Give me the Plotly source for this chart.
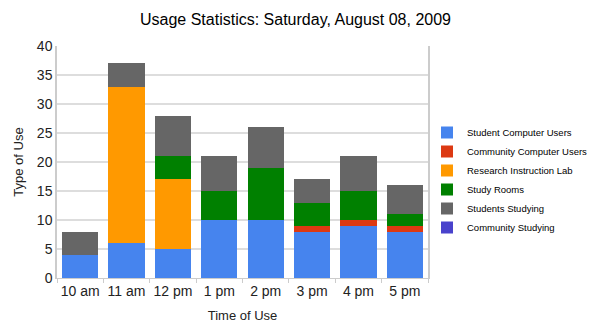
import plotly.graph_objects as go

times = ["10 am", "11 am", "12 pm", "1 pm", "2 pm", "3 pm", "4 pm", "5 pm"]
student_computer = [4, 6, 5, 10, 10, 8, 9, 8]
community_computer = [0, 0, 0, 0, 0, 1, 1, 1]
research_lab = [0, 27, 12, 0, 0, 0, 0, 0]
study_rooms = [0, 0, 4, 5, 9, 4, 5, 2]
students_studying = [4, 4, 7, 6, 7, 4, 6, 5]
community_studying = [0, 0, 0, 0, 0, 0, 0, 0]

series = [
    ("Student Computer Users", student_computer, "#4684EE"),
    ("Community Computer Users", community_computer, "#DC3912"),
    ("Research Instruction Lab", research_lab, "#FF9900"),
    ("Study Rooms", study_rooms, "#008000"),
    ("Students Studying", students_studying, "#666666"),
    ("Community Studying", community_studying, "#4942CC"),
]

fig = go.Figure()
for name, vals, col in series:
    fig.add_trace(go.Bar(x=times, y=vals, name=name, marker=dict(color=col, line=dict(width=0))))

fig.update_layout(
    width=591, height=332,
    barmode="stack", bargap=0.22,
    paper_bgcolor="white", plot_bgcolor="white",
    margin=dict(l=57, r=163, t=46, b=54, autoexpand=False),
    font=dict(family="Liberation Sans, Arial, sans-serif", color="#222"),
    title=dict(text="Usage Statistics: Saturday, August 08, 2009", x=0.5, xanchor="center",
               y=1 - 19/332, yanchor="middle", font=dict(size=16, color="#000")),
    legend=dict(xref="container", yref="container", x=427/591, xanchor="left",
                y=1 - 118/332, yanchor="top", traceorder="normal",
                font=dict(size=9.5, color="#000"), bgcolor="rgba(0,0,0,0)"),
    showlegend=True,
)
fig.update_xaxes(
    title=dict(text="Time of Use", font=dict(size=13, color="#222"), standoff=13),
    tickfont=dict(size=14, color="#222"), tickangle=0,
    showline=True, linecolor="#cccccc", linewidth=1,
    ticks="outside", tickson="boundaries", ticklen=4, tickcolor="#cccccc",
)
fig.update_yaxes(
    title=dict(text="Type of Use", font=dict(size=13, color="#222"), standoff=10),
    tickfont=dict(size=14, color="#222"),
    range=[0, 40], dtick=5,
    showgrid=True, gridcolor="#dddddd", gridwidth=1.5,
    showline=True, linecolor="#cccccc", linewidth=1.5, mirror=True,
    zeroline=False, ticks="",
)

fig.write_html("out.html")
